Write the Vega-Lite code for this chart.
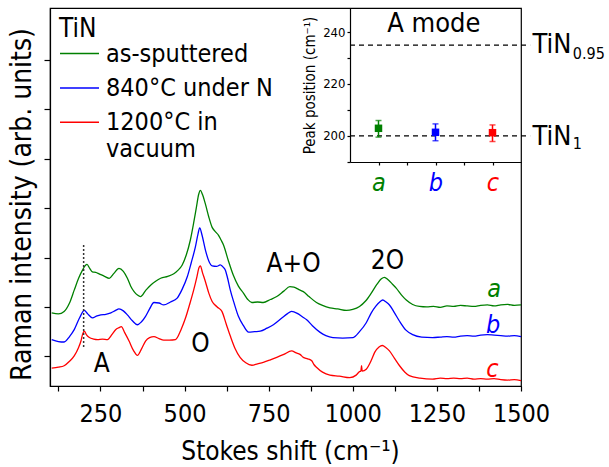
{
  "$schema": "https://vega.github.io/schema/vega-lite/v6.json",
  "width": 471,
  "height": 378,
  "autosize": {"type": "none"},
  "padding": {"left": 50, "top": 8, "right": 88, "bottom": 81},
  "background": "white",
  "config": {
    "font": "DejaVu Sans Condensed, Liberation Sans",
    "view": {"stroke": "#000", "strokeWidth": 1.2},
    "axis": {"grid": false, "domainColor": "#000", "tickColor": "#000", "labelColor": "#000", "titleColor": "#000", "titleFontWeight": "normal", "domainWidth": 1.2, "tickWidth": 1.2},
    "legend": {"titleFontWeight": "normal"}
  },
  "datasets": {
    "spectra": [
      {"sample": "as-sputtered", "shift": 105, "intensity": 1.88},
      {"sample": "as-sputtered", "shift": 125, "intensity": 1.86},
      {"sample": "as-sputtered", "shift": 142, "intensity": 1.91},
      {"sample": "as-sputtered", "shift": 158, "intensity": 2.08},
      {"sample": "as-sputtered", "shift": 172, "intensity": 2.34},
      {"sample": "as-sputtered", "shift": 185, "intensity": 2.58},
      {"sample": "as-sputtered", "shift": 197, "intensity": 2.75},
      {"sample": "as-sputtered", "shift": 205, "intensity": 2.84},
      {"sample": "as-sputtered", "shift": 210, "intensity": 2.86},
      {"sample": "as-sputtered", "shift": 218, "intensity": 2.78},
      {"sample": "as-sputtered", "shift": 226, "intensity": 2.71},
      {"sample": "as-sputtered", "shift": 236, "intensity": 2.7},
      {"sample": "as-sputtered", "shift": 246, "intensity": 2.67},
      {"sample": "as-sputtered", "shift": 262, "intensity": 2.62},
      {"sample": "as-sputtered", "shift": 276, "intensity": 2.58},
      {"sample": "as-sputtered", "shift": 290, "intensity": 2.68},
      {"sample": "as-sputtered", "shift": 305, "intensity": 2.78},
      {"sample": "as-sputtered", "shift": 318, "intensity": 2.72},
      {"sample": "as-sputtered", "shift": 330, "intensity": 2.58},
      {"sample": "as-sputtered", "shift": 340, "intensity": 2.42},
      {"sample": "as-sputtered", "shift": 350, "intensity": 2.31},
      {"sample": "as-sputtered", "shift": 360, "intensity": 2.24},
      {"sample": "as-sputtered", "shift": 369, "intensity": 2.21},
      {"sample": "as-sputtered", "shift": 384, "intensity": 2.33},
      {"sample": "as-sputtered", "shift": 399, "intensity": 2.44},
      {"sample": "as-sputtered", "shift": 414, "intensity": 2.52},
      {"sample": "as-sputtered", "shift": 429, "intensity": 2.58},
      {"sample": "as-sputtered", "shift": 450, "intensity": 2.62},
      {"sample": "as-sputtered", "shift": 468, "intensity": 2.67},
      {"sample": "as-sputtered", "shift": 480, "intensity": 2.74},
      {"sample": "as-sputtered", "shift": 493, "intensity": 2.85},
      {"sample": "as-sputtered", "shift": 505, "intensity": 3.05},
      {"sample": "as-sputtered", "shift": 517, "intensity": 3.35},
      {"sample": "as-sputtered", "shift": 527, "intensity": 3.7},
      {"sample": "as-sputtered", "shift": 535, "intensity": 4.01},
      {"sample": "as-sputtered", "shift": 542, "intensity": 4.28},
      {"sample": "as-sputtered", "shift": 547, "intensity": 4.36},
      {"sample": "as-sputtered", "shift": 553, "intensity": 4.28},
      {"sample": "as-sputtered", "shift": 562, "intensity": 4.08},
      {"sample": "as-sputtered", "shift": 572, "intensity": 3.82},
      {"sample": "as-sputtered", "shift": 582, "intensity": 3.61},
      {"sample": "as-sputtered", "shift": 592, "intensity": 3.52},
      {"sample": "as-sputtered", "shift": 601, "intensity": 3.45},
      {"sample": "as-sputtered", "shift": 608, "intensity": 3.36},
      {"sample": "as-sputtered", "shift": 616, "intensity": 3.25},
      {"sample": "as-sputtered", "shift": 630, "intensity": 2.94},
      {"sample": "as-sputtered", "shift": 645, "intensity": 2.64},
      {"sample": "as-sputtered", "shift": 660, "intensity": 2.42},
      {"sample": "as-sputtered", "shift": 675, "intensity": 2.28},
      {"sample": "as-sputtered", "shift": 688, "intensity": 2.15},
      {"sample": "as-sputtered", "shift": 700, "intensity": 2.09},
      {"sample": "as-sputtered", "shift": 717, "intensity": 2.1},
      {"sample": "as-sputtered", "shift": 734, "intensity": 2.09},
      {"sample": "as-sputtered", "shift": 755, "intensity": 2.15},
      {"sample": "as-sputtered", "shift": 774, "intensity": 2.21},
      {"sample": "as-sputtered", "shift": 795, "intensity": 2.32},
      {"sample": "as-sputtered", "shift": 813, "intensity": 2.41},
      {"sample": "as-sputtered", "shift": 825, "intensity": 2.4},
      {"sample": "as-sputtered", "shift": 840, "intensity": 2.35},
      {"sample": "as-sputtered", "shift": 853, "intensity": 2.31},
      {"sample": "as-sputtered", "shift": 870, "intensity": 2.21},
      {"sample": "as-sputtered", "shift": 892, "intensity": 2.09},
      {"sample": "as-sputtered", "shift": 910, "intensity": 2.03},
      {"sample": "as-sputtered", "shift": 932, "intensity": 1.98},
      {"sample": "as-sputtered", "shift": 955, "intensity": 1.96},
      {"sample": "as-sputtered", "shift": 981, "intensity": 1.93},
      {"sample": "as-sputtered", "shift": 1000, "intensity": 1.95},
      {"sample": "as-sputtered", "shift": 1020, "intensity": 2.01},
      {"sample": "as-sputtered", "shift": 1038, "intensity": 2.12},
      {"sample": "as-sputtered", "shift": 1055, "intensity": 2.28},
      {"sample": "as-sputtered", "shift": 1072, "intensity": 2.46},
      {"sample": "as-sputtered", "shift": 1085, "intensity": 2.57},
      {"sample": "as-sputtered", "shift": 1094, "intensity": 2.6},
      {"sample": "as-sputtered", "shift": 1105, "intensity": 2.55},
      {"sample": "as-sputtered", "shift": 1118, "intensity": 2.46},
      {"sample": "as-sputtered", "shift": 1129, "intensity": 2.38},
      {"sample": "as-sputtered", "shift": 1145, "intensity": 2.24},
      {"sample": "as-sputtered", "shift": 1159, "intensity": 2.14},
      {"sample": "as-sputtered", "shift": 1178, "intensity": 2.05},
      {"sample": "as-sputtered", "shift": 1198, "intensity": 2.01},
      {"sample": "as-sputtered", "shift": 1220, "intensity": 2.0},
      {"sample": "as-sputtered", "shift": 1240, "intensity": 2.01},
      {"sample": "as-sputtered", "shift": 1260, "intensity": 1.99},
      {"sample": "as-sputtered", "shift": 1280, "intensity": 2.02},
      {"sample": "as-sputtered", "shift": 1300, "intensity": 2.01},
      {"sample": "as-sputtered", "shift": 1320, "intensity": 2.03},
      {"sample": "as-sputtered", "shift": 1340, "intensity": 2.02},
      {"sample": "as-sputtered", "shift": 1360, "intensity": 2.01},
      {"sample": "as-sputtered", "shift": 1380, "intensity": 2.03},
      {"sample": "as-sputtered", "shift": 1400, "intensity": 2.04},
      {"sample": "as-sputtered", "shift": 1420, "intensity": 2.02},
      {"sample": "as-sputtered", "shift": 1440, "intensity": 2.04},
      {"sample": "as-sputtered", "shift": 1460, "intensity": 2.05},
      {"sample": "as-sputtered", "shift": 1480, "intensity": 2.03},
      {"sample": "as-sputtered", "shift": 1500, "intensity": 2.04},
      {"sample": "840°C under N", "shift": 105, "intensity": 1.34},
      {"sample": "840°C under N", "shift": 125, "intensity": 1.3},
      {"sample": "840°C under N", "shift": 142, "intensity": 1.29},
      {"sample": "840°C under N", "shift": 158, "intensity": 1.4},
      {"sample": "840°C under N", "shift": 172, "intensity": 1.54},
      {"sample": "840°C under N", "shift": 188, "intensity": 1.78},
      {"sample": "840°C under N", "shift": 202, "intensity": 1.93},
      {"sample": "840°C under N", "shift": 212, "intensity": 1.86},
      {"sample": "840°C under N", "shift": 226, "intensity": 1.78},
      {"sample": "840°C under N", "shift": 240, "intensity": 1.82},
      {"sample": "840°C under N", "shift": 251, "intensity": 1.84},
      {"sample": "840°C under N", "shift": 266, "intensity": 1.85},
      {"sample": "840°C under N", "shift": 281, "intensity": 1.88},
      {"sample": "840°C under N", "shift": 295, "intensity": 1.93},
      {"sample": "840°C under N", "shift": 305, "intensity": 1.96},
      {"sample": "840°C under N", "shift": 318, "intensity": 1.92},
      {"sample": "840°C under N", "shift": 330, "intensity": 1.84},
      {"sample": "840°C under N", "shift": 345, "intensity": 1.72},
      {"sample": "840°C under N", "shift": 360, "intensity": 1.64},
      {"sample": "840°C under N", "shift": 372, "intensity": 1.7},
      {"sample": "840°C under N", "shift": 384, "intensity": 1.81},
      {"sample": "840°C under N", "shift": 396, "intensity": 1.96},
      {"sample": "840°C under N", "shift": 409, "intensity": 2.09},
      {"sample": "840°C under N", "shift": 424, "intensity": 2.08},
      {"sample": "840°C under N", "shift": 438, "intensity": 2.04},
      {"sample": "840°C under N", "shift": 458, "intensity": 2.1},
      {"sample": "840°C under N", "shift": 478, "intensity": 2.18},
      {"sample": "840°C under N", "shift": 493, "intensity": 2.36},
      {"sample": "840°C under N", "shift": 508, "intensity": 2.61},
      {"sample": "840°C under N", "shift": 520, "intensity": 2.9},
      {"sample": "840°C under N", "shift": 532, "intensity": 3.21},
      {"sample": "840°C under N", "shift": 540, "intensity": 3.48},
      {"sample": "840°C under N", "shift": 545, "intensity": 3.6},
      {"sample": "840°C under N", "shift": 552, "intensity": 3.45},
      {"sample": "840°C under N", "shift": 562, "intensity": 3.15},
      {"sample": "840°C under N", "shift": 572, "intensity": 2.93},
      {"sample": "840°C under N", "shift": 582, "intensity": 2.83},
      {"sample": "840°C under N", "shift": 595, "intensity": 2.82},
      {"sample": "840°C under N", "shift": 606, "intensity": 2.85},
      {"sample": "840°C under N", "shift": 614, "intensity": 2.81},
      {"sample": "840°C under N", "shift": 621, "intensity": 2.75},
      {"sample": "840°C under N", "shift": 628, "intensity": 2.58},
      {"sample": "840°C under N", "shift": 636, "intensity": 2.34},
      {"sample": "840°C under N", "shift": 648, "intensity": 2.06},
      {"sample": "840°C under N", "shift": 660, "intensity": 1.81},
      {"sample": "840°C under N", "shift": 675, "intensity": 1.62},
      {"sample": "840°C under N", "shift": 690, "intensity": 1.49},
      {"sample": "840°C under N", "shift": 708, "intensity": 1.5},
      {"sample": "840°C under N", "shift": 725, "intensity": 1.51},
      {"sample": "840°C under N", "shift": 745, "intensity": 1.57},
      {"sample": "840°C under N", "shift": 764, "intensity": 1.64},
      {"sample": "840°C under N", "shift": 790, "intensity": 1.78},
      {"sample": "840°C under N", "shift": 805, "intensity": 1.86},
      {"sample": "840°C under N", "shift": 818, "intensity": 1.91},
      {"sample": "840°C under N", "shift": 835, "intensity": 1.87},
      {"sample": "840°C under N", "shift": 850, "intensity": 1.8},
      {"sample": "840°C under N", "shift": 863, "intensity": 1.74},
      {"sample": "840°C under N", "shift": 880, "intensity": 1.62},
      {"sample": "840°C under N", "shift": 902, "intensity": 1.49},
      {"sample": "840°C under N", "shift": 920, "intensity": 1.42},
      {"sample": "840°C under N", "shift": 941, "intensity": 1.38},
      {"sample": "840°C under N", "shift": 970, "intensity": 1.37},
      {"sample": "840°C under N", "shift": 1001, "intensity": 1.38},
      {"sample": "840°C under N", "shift": 1020, "intensity": 1.5},
      {"sample": "840°C under N", "shift": 1040, "intensity": 1.68},
      {"sample": "840°C under N", "shift": 1055, "intensity": 1.88},
      {"sample": "840°C under N", "shift": 1068, "intensity": 2.01},
      {"sample": "840°C under N", "shift": 1080, "intensity": 2.1},
      {"sample": "840°C under N", "shift": 1089, "intensity": 2.14},
      {"sample": "840°C under N", "shift": 1099, "intensity": 2.1},
      {"sample": "840°C under N", "shift": 1109, "intensity": 2.04},
      {"sample": "840°C under N", "shift": 1124, "intensity": 1.88},
      {"sample": "840°C under N", "shift": 1139, "intensity": 1.71},
      {"sample": "840°C under N", "shift": 1158, "intensity": 1.53},
      {"sample": "840°C under N", "shift": 1178, "intensity": 1.44},
      {"sample": "840°C under N", "shift": 1205, "intensity": 1.39},
      {"sample": "840°C under N", "shift": 1237, "intensity": 1.38},
      {"sample": "840°C under N", "shift": 1260, "intensity": 1.39},
      {"sample": "840°C under N", "shift": 1280, "intensity": 1.4},
      {"sample": "840°C under N", "shift": 1300, "intensity": 1.39},
      {"sample": "840°C under N", "shift": 1320, "intensity": 1.41},
      {"sample": "840°C under N", "shift": 1340, "intensity": 1.42},
      {"sample": "840°C under N", "shift": 1360, "intensity": 1.41},
      {"sample": "840°C under N", "shift": 1380, "intensity": 1.43},
      {"sample": "840°C under N", "shift": 1400, "intensity": 1.44},
      {"sample": "840°C under N", "shift": 1420, "intensity": 1.43},
      {"sample": "840°C under N", "shift": 1440, "intensity": 1.42},
      {"sample": "840°C under N", "shift": 1460, "intensity": 1.41},
      {"sample": "840°C under N", "shift": 1480, "intensity": 1.42},
      {"sample": "840°C under N", "shift": 1500, "intensity": 1.4},
      {"sample": "1200°C in vacuum", "shift": 105, "intensity": 0.76},
      {"sample": "1200°C in vacuum", "shift": 125, "intensity": 0.78},
      {"sample": "1200°C in vacuum", "shift": 142, "intensity": 0.81},
      {"sample": "1200°C in vacuum", "shift": 158, "intensity": 0.9},
      {"sample": "1200°C in vacuum", "shift": 172, "intensity": 1.01},
      {"sample": "1200°C in vacuum", "shift": 185, "intensity": 1.18},
      {"sample": "1200°C in vacuum", "shift": 192, "intensity": 1.31},
      {"sample": "1200°C in vacuum", "shift": 197, "intensity": 1.45},
      {"sample": "1200°C in vacuum", "shift": 202, "intensity": 1.51},
      {"sample": "1200°C in vacuum", "shift": 208, "intensity": 1.44},
      {"sample": "1200°C in vacuum", "shift": 217, "intensity": 1.38},
      {"sample": "1200°C in vacuum", "shift": 230, "intensity": 1.35},
      {"sample": "1200°C in vacuum", "shift": 241, "intensity": 1.34},
      {"sample": "1200°C in vacuum", "shift": 256, "intensity": 1.35},
      {"sample": "1200°C in vacuum", "shift": 271, "intensity": 1.34},
      {"sample": "1200°C in vacuum", "shift": 285, "intensity": 1.45},
      {"sample": "1200°C in vacuum", "shift": 295, "intensity": 1.54},
      {"sample": "1200°C in vacuum", "shift": 305, "intensity": 1.58},
      {"sample": "1200°C in vacuum", "shift": 312, "intensity": 1.6},
      {"sample": "1200°C in vacuum", "shift": 322, "intensity": 1.48},
      {"sample": "1200°C in vacuum", "shift": 335, "intensity": 1.31},
      {"sample": "1200°C in vacuum", "shift": 348, "intensity": 1.12},
      {"sample": "1200°C in vacuum", "shift": 360, "intensity": 1.02},
      {"sample": "1200°C in vacuum", "shift": 372, "intensity": 1.15},
      {"sample": "1200°C in vacuum", "shift": 384, "intensity": 1.31},
      {"sample": "1200°C in vacuum", "shift": 396, "intensity": 1.38},
      {"sample": "1200°C in vacuum", "shift": 409, "intensity": 1.4},
      {"sample": "1200°C in vacuum", "shift": 424, "intensity": 1.36},
      {"sample": "1200°C in vacuum", "shift": 438, "intensity": 1.33},
      {"sample": "1200°C in vacuum", "shift": 455, "intensity": 1.33},
      {"sample": "1200°C in vacuum", "shift": 473, "intensity": 1.34},
      {"sample": "1200°C in vacuum", "shift": 490, "intensity": 1.55},
      {"sample": "1200°C in vacuum", "shift": 503, "intensity": 1.78},
      {"sample": "1200°C in vacuum", "shift": 515, "intensity": 2.05},
      {"sample": "1200°C in vacuum", "shift": 527, "intensity": 2.34},
      {"sample": "1200°C in vacuum", "shift": 537, "intensity": 2.62},
      {"sample": "1200°C in vacuum", "shift": 543, "intensity": 2.8},
      {"sample": "1200°C in vacuum", "shift": 547, "intensity": 2.83},
      {"sample": "1200°C in vacuum", "shift": 553, "intensity": 2.7},
      {"sample": "1200°C in vacuum", "shift": 562, "intensity": 2.51},
      {"sample": "1200°C in vacuum", "shift": 572, "intensity": 2.28},
      {"sample": "1200°C in vacuum", "shift": 582, "intensity": 2.11},
      {"sample": "1200°C in vacuum", "shift": 597, "intensity": 2.0},
      {"sample": "1200°C in vacuum", "shift": 611, "intensity": 1.91},
      {"sample": "1200°C in vacuum", "shift": 624, "intensity": 1.65},
      {"sample": "1200°C in vacuum", "shift": 636, "intensity": 1.41},
      {"sample": "1200°C in vacuum", "shift": 650, "intensity": 1.16},
      {"sample": "1200°C in vacuum", "shift": 665, "intensity": 0.98},
      {"sample": "1200°C in vacuum", "shift": 682, "intensity": 0.87},
      {"sample": "1200°C in vacuum", "shift": 700, "intensity": 0.82},
      {"sample": "1200°C in vacuum", "shift": 717, "intensity": 0.85},
      {"sample": "1200°C in vacuum", "shift": 734, "intensity": 0.88},
      {"sample": "1200°C in vacuum", "shift": 755, "intensity": 0.93},
      {"sample": "1200°C in vacuum", "shift": 774, "intensity": 0.98},
      {"sample": "1200°C in vacuum", "shift": 795, "intensity": 1.04},
      {"sample": "1200°C in vacuum", "shift": 818, "intensity": 1.11},
      {"sample": "1200°C in vacuum", "shift": 832, "intensity": 1.07},
      {"sample": "1200°C in vacuum", "shift": 843, "intensity": 1.04},
      {"sample": "1200°C in vacuum", "shift": 853, "intensity": 0.98},
      {"sample": "1200°C in vacuum", "shift": 866, "intensity": 0.95},
      {"sample": "1200°C in vacuum", "shift": 878, "intensity": 0.91},
      {"sample": "1200°C in vacuum", "shift": 885, "intensity": 0.83},
      {"sample": "1200°C in vacuum", "shift": 892, "intensity": 0.78},
      {"sample": "1200°C in vacuum", "shift": 910, "intensity": 0.68},
      {"sample": "1200°C in vacuum", "shift": 932, "intensity": 0.62},
      {"sample": "1200°C in vacuum", "shift": 960, "intensity": 0.6},
      {"sample": "1200°C in vacuum", "shift": 991, "intensity": 0.57},
      {"sample": "1200°C in vacuum", "shift": 1010, "intensity": 0.62},
      {"sample": "1200°C in vacuum", "shift": 1020, "intensity": 0.69},
      {"sample": "1200°C in vacuum", "shift": 1024, "intensity": 0.7},
      {"sample": "1200°C in vacuum", "shift": 1026, "intensity": 0.81},
      {"sample": "1200°C in vacuum", "shift": 1028, "intensity": 0.7},
      {"sample": "1200°C in vacuum", "shift": 1040, "intensity": 0.74},
      {"sample": "1200°C in vacuum", "shift": 1055, "intensity": 0.92},
      {"sample": "1200°C in vacuum", "shift": 1065, "intensity": 1.08},
      {"sample": "1200°C in vacuum", "shift": 1078, "intensity": 1.19},
      {"sample": "1200°C in vacuum", "shift": 1088, "intensity": 1.22},
      {"sample": "1200°C in vacuum", "shift": 1098, "intensity": 1.18},
      {"sample": "1200°C in vacuum", "shift": 1109, "intensity": 1.11},
      {"sample": "1200°C in vacuum", "shift": 1124, "intensity": 0.96},
      {"sample": "1200°C in vacuum", "shift": 1139, "intensity": 0.81},
      {"sample": "1200°C in vacuum", "shift": 1155, "intensity": 0.68},
      {"sample": "1200°C in vacuum", "shift": 1168, "intensity": 0.61},
      {"sample": "1200°C in vacuum", "shift": 1200, "intensity": 0.56},
      {"sample": "1200°C in vacuum", "shift": 1237, "intensity": 0.54},
      {"sample": "1200°C in vacuum", "shift": 1260, "intensity": 0.56},
      {"sample": "1200°C in vacuum", "shift": 1280, "intensity": 0.55},
      {"sample": "1200°C in vacuum", "shift": 1300, "intensity": 0.56},
      {"sample": "1200°C in vacuum", "shift": 1320, "intensity": 0.55},
      {"sample": "1200°C in vacuum", "shift": 1340, "intensity": 0.56},
      {"sample": "1200°C in vacuum", "shift": 1360, "intensity": 0.54},
      {"sample": "1200°C in vacuum", "shift": 1380, "intensity": 0.55},
      {"sample": "1200°C in vacuum", "shift": 1400, "intensity": 0.54},
      {"sample": "1200°C in vacuum", "shift": 1420, "intensity": 0.55},
      {"sample": "1200°C in vacuum", "shift": 1440, "intensity": 0.53},
      {"sample": "1200°C in vacuum", "shift": 1460, "intensity": 0.52},
      {"sample": "1200°C in vacuum", "shift": 1480, "intensity": 0.53},
      {"sample": "1200°C in vacuum", "shift": 1500, "intensity": 0.51}
    ],
    "bands": [
      {"label": "A", "shift": 254, "intensity": 0.69},
      {"label": "O", "shift": 547, "intensity": 1.095},
      {"label": "A+O", "shift": 824, "intensity": 2.717},
      {"label": "2O", "shift": 1103, "intensity": 2.77}
    ],
    "tags": [
      {"label": "a", "sample": "as-sputtered", "shift": 1420, "intensity": 2.2},
      {"label": "b", "sample": "840°C under N", "shift": 1417, "intensity": 1.48},
      {"label": "c", "sample": "1200°C in vacuum", "shift": 1415, "intensity": 0.59}
    ],
    "marker": [
      {"shift": 200, "low": 1.19, "high": 3.29}
    ],
    "peaks": [
      {"sample": "as-sputtered", "pos": 1, "peak": 202.9, "low": 199.5, "high": 205.9},
      {"sample": "840°C under N", "pos": 2, "peak": 201.35, "low": 198.1, "high": 204.6},
      {"sample": "1200°C in vacuum", "pos": 3, "peak": 201.2, "low": 197.8, "high": 204.2}
    ],
    "refs": [
      {"pos": 0.5, "to": 3.66, "peak": 235},
      {"pos": 0.5, "to": 3.66, "peak": 200}
    ],
    "refnames": [
      {"main": "TiN", "pos": 3.7, "peak": 231.8},
      {"main": "TiN", "pos": 3.7, "peak": 196.5}
    ],
    "refsubs": [
      {"sub": "0.95", "pos": 4.41, "peak": 229.8},
      {"sub": "1", "pos": 4.41, "peak": 194.8}
    ],
    "insettitle": [
      {"label": "A mode", "pos": 1.97, "peak": 239.9}
    ]
  },
  "layer": [
    {
      "layer": [
        {
          "data": {"name": "spectra"},
          "mark": {"type": "line", "strokeWidth": 1.3, "interpolate": "monotone"},
          "encoding": {
            "x": {
              "field": "shift", "type": "quantitative",
              "scale": {"domain": [100, 1500], "nice": false, "zero": false},
              "axis": {
                "values": [125, 250, 375, 500, 625, 750, 875, 1000, 1125, 1250, 1375, 1500],
                "labelExpr": "datum.value % 250 == 0 ? datum.label : ''",
                "format": "d",
                "labelOverlap": false, "labelFlush": false,
                "tickSize": 5, "labelPadding": 10, "labelFontSize": 25,
                "title": "Stokes shift (cm⁻¹)", "titleFontSize": 26,
                "titleBaseline": "alphabetic", "titleY": 73.5, "titleX": 240
              }
            },
            "y": {
              "field": "intensity", "type": "quantitative",
              "scale": {"domain": [0.4, 8.05], "nice": false, "zero": false},
              "axis": {
                "values": [1, 2, 3, 4, 5, 6, 7],
                "labels": false, "tickSize": 6,
                "title": "Raman intensity (arb. units)", "titleFontSize": 28,
                "titleBaseline": "alphabetic", "titleAngle": 270, "titleX": -19.5, "titleY": 196, "titleAlign": "center"
              }
            },
            "color": {
              "field": "sample", "type": "nominal",
              "scale": {"domain": ["as-sputtered", "840°C under N", "1200°C in vacuum"], "range": ["#008000", "#0000ff", "#ff0000"]},
              "legend": {
                "orient": "none", "legendX": 9, "legendY": 8, "padding": 0,
                "title": "TiN", "titleFontSize": 26, "titleColor": "#000", "titlePadding": -9,
                "labelFontSize": 25, "labelColor": "#000", "labelLimit": 400, "labelOffset": 6,
                "symbolType": "stroke", "symbolSize": 1521, "symbolStrokeWidth": 1.5,
                "rowPadding": 0.4,
                "labelExpr": "datum.label == '1200°C in vacuum' ? ['1200°C in', 'vacuum'] : datum.label"
              }
            }
          }
        },
        {
          "data": {"name": "marker"},
          "mark": {"type": "rule", "strokeDash": [2, 2], "strokeWidth": 1.5, "color": "#333"},
          "encoding": {
            "x": {"field": "shift", "type": "quantitative"},
            "y": {"field": "low", "type": "quantitative"},
            "y2": {"field": "high"}
          }
        },
        {
          "data": {"name": "bands"},
          "mark": {"type": "text", "fontSize": 26, "color": "#000", "baseline": "alphabetic", "align": "center"},
          "encoding": {
            "x": {"field": "shift", "type": "quantitative"},
            "y": {"field": "intensity", "type": "quantitative"},
            "text": {"field": "label"}
          }
        },
        {
          "data": {"name": "tags"},
          "mark": {"type": "text", "fontSize": 25, "fontStyle": "italic", "baseline": "alphabetic", "align": "center"},
          "encoding": {
            "x": {"field": "shift", "type": "quantitative"},
            "y": {"field": "intensity", "type": "quantitative"},
            "text": {"field": "label"},
            "color": {"field": "sample", "type": "nominal", "legend": null}
          }
        }
      ]
    },
    {
      "encoding": {
        "x": {
          "field": "pos", "type": "quantitative",
          "scale": {"domain": [0.5, 3.5], "range": [300, 471], "nice": false, "zero": false},
          "axis": {
            "orient": "bottom", "offset": -224,
            "values": [1, 1.5, 2, 2.5, 3],
            "labelExpr": "datum.value == 1 ? 'a' : datum.value == 2 ? 'b' : datum.value == 3 ? 'c' : ''",
            "labelOverlap": false, "labelFlush": false,
            "tickSize": 3, "labelPadding": 5, "labelFontSize": 25, "labelFontStyle": "italic",
            "labelColor": {"condition": [{"test": "datum.value == 1", "value": "#008000"}, {"test": "datum.value == 2", "value": "#0000ff"}], "value": "#ff0000"},
            "title": null
          }
        },
        "y": {
          "field": "peak", "type": "quantitative",
          "scale": {"domain": [189.9, 249.3], "range": [154, 0], "nice": false, "zero": false},
          "axis": {
            "orient": "left", "offset": -300,
            "values": [190, 200, 210, 220, 230, 240],
            "labelExpr": "datum.value % 20 == 0 ? datum.label : ''",
            "labelOverlap": false,
            "tickSize": 3, "labelPadding": 2, "labelFontSize": 13,
            "title": "Peak position (cm⁻¹)", "titleFontSize": 15, "titlePadding": 5
          }
        }
      },
      "layer": [
        {
          "data": {"name": "refs"},
          "mark": {"type": "rule", "strokeDash": [5, 4], "strokeWidth": 1.2, "color": "#000"},
          "encoding": {
            "x2": {"field": "to"}
          }
        },
        {
          "data": {"name": "peaks"},
          "mark": {"type": "rule", "strokeWidth": 1.5},
          "encoding": {
            "y": {"field": "low", "type": "quantitative"},
            "y2": {"field": "high"},
            "color": {"field": "sample", "type": "nominal", "legend": null}
          }
        },
        {
          "data": {"name": "peaks"},
          "mark": {"type": "tick", "orient": "horizontal", "size": 6, "thickness": 1.5},
          "encoding": {
            "y": {"field": "low", "type": "quantitative"},
            "color": {"field": "sample", "type": "nominal", "legend": null}
          }
        },
        {
          "data": {"name": "peaks"},
          "mark": {"type": "tick", "orient": "horizontal", "size": 6, "thickness": 1.5},
          "encoding": {
            "y": {"field": "high", "type": "quantitative"},
            "color": {"field": "sample", "type": "nominal", "legend": null}
          }
        },
        {
          "data": {"name": "peaks"},
          "mark": {"type": "square", "size": 56, "opacity": 1, "filled": true},
          "encoding": {
            "color": {"field": "sample", "type": "nominal", "legend": null}
          }
        },
        {
          "data": {"name": "insettitle"},
          "mark": {"type": "text", "fontSize": 27, "color": "#000", "baseline": "alphabetic", "align": "center"},
          "encoding": {
            "text": {"field": "label"}
          }
        },
        {
          "data": {"name": "refnames"},
          "mark": {"type": "text", "fontSize": 27, "color": "#000", "baseline": "alphabetic", "align": "left"},
          "encoding": {
            "text": {"field": "main"}
          }
        },
        {
          "data": {"name": "refsubs"},
          "mark": {"type": "text", "fontSize": 16, "color": "#000", "baseline": "alphabetic", "align": "left"},
          "encoding": {
            "text": {"field": "sub"}
          }
        }
      ]
    }
  ],
  "resolve": {"scale": {"x": "independent", "y": "independent"}}
}
